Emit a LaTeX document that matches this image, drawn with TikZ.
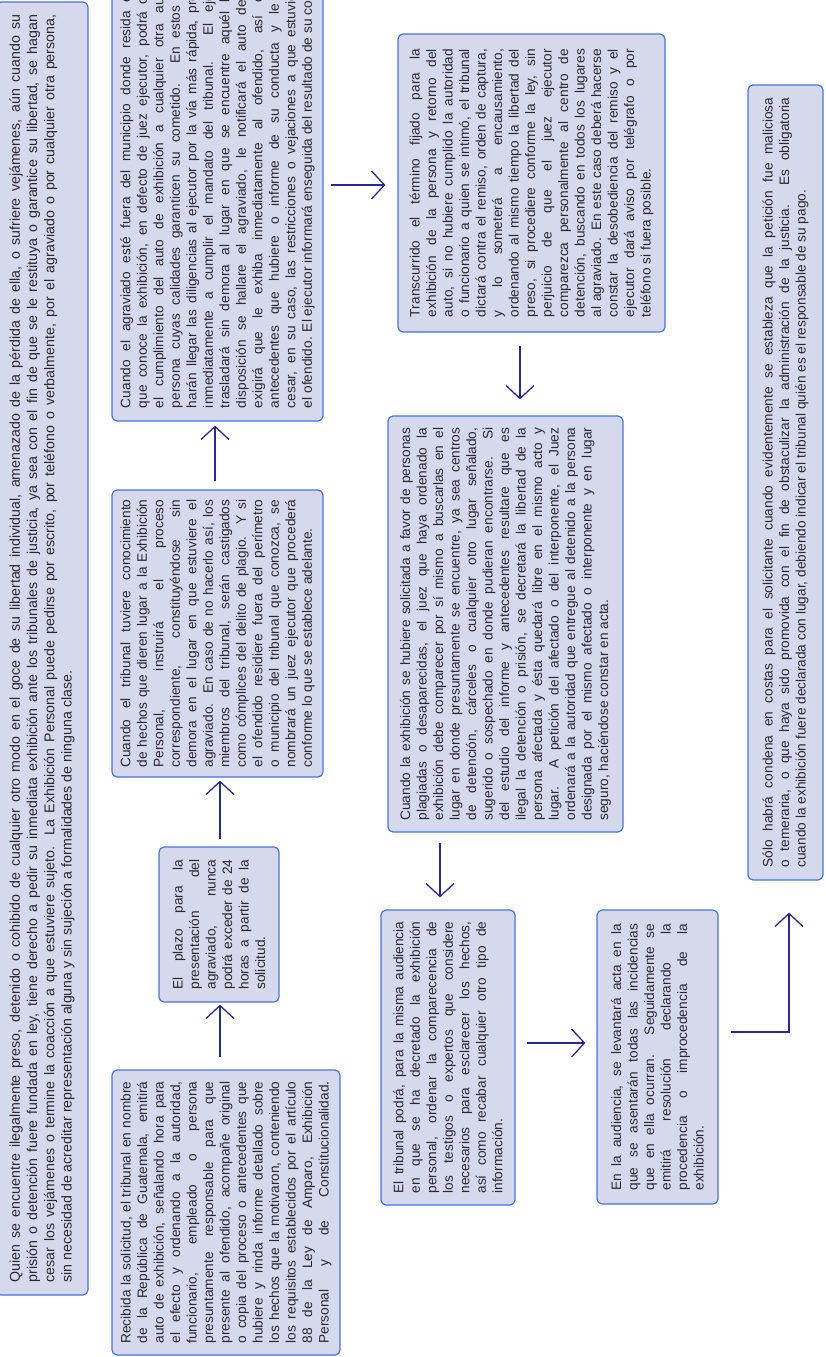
\documentclass[tikz,border=0pt]{standalone}
\usepackage{fontspec}
\setmainfont{Liberation Sans}
\usetikzlibrary{arrows.meta,calc}

\definecolor{boxfill}{RGB}{214,216,236}
\definecolor{boxline}{RGB}{66,116,232}
\definecolor{arrowblue}{RGB}{40,40,150}
\definecolor{textgray}{RGB}{40,40,50}
\hyphenpenalty=10000
\exhyphenpenalty=10000

\begin{document}
\begin{tikzpicture}[x=1pt,y=-1pt,
  paso/.style={draw=boxline,fill=boxfill,line width=1.2pt,rounded corners=5pt,
    rotate=90,text=textgray,inner sep=0pt,
    font=\fontsize{13.7}{16.5}\selectfont},
  flecha/.style={draw=arrowblue,line width=1.3pt,-{Straight Barb[length=13pt,width=28pt]}}]
\useasboundingbox (0,0) rectangle (825,1357);
\clip (0,0) rectangle (825,1357);

\node[paso,minimum width=1293pt,minimum height=92pt,
  font=\fontsize{14.2}{17.3}\selectfont] (quien) at (42,648.5)
  {\parbox{1268pt}{Quien se encuentre ilegalmente preso, detenido o cohibido de cualquier otro modo en el goce de su libertad individual, amenazado de la pérdida de ella, o sufriere vejámenes, aún cuando su\linebreak
  prisión o detención fuere fundada en ley, tiene derecho a pedir su inmediata exhibición ante los tribunales de justicia, ya sea con el fin de que se le restituya o garantice su libertad, se hagan\linebreak
  cesar los vejámenes o termine la coacción a que estuviere sujeto.  La Exhibición Personal puede pedirse por escrito, por teléfono o verbalmente,  por el agraviado o por cualquier otra persona,\linebreak
  sin necesidad de acreditar representación alguna y sin sujeción a formalidades de ninguna clase.}};

\node[paso,minimum width=285pt,minimum height=228pt] (recibida) at (226,1212.5)
  {\parbox{262pt}{\parfillskip=0pt Recibida la solicitud, el tribunal en nombre\linebreak
  de la República de Guatemala, emitirá\linebreak
  auto de exhibición, señalando hora para\linebreak
  el efecto y ordenando a la autoridad,\linebreak
  funcionario, empleado o persona\linebreak
  presuntamente responsable para que\linebreak
  presente al ofendido, acompañe original\linebreak
  o copia del proceso o antecedentes que\linebreak
  hubiere y rinda informe detallado sobre\linebreak
  los hechos que la motivaron, conteniendo\linebreak
  los requisitos establecidos por el artículo\linebreak
  88 de la Ley de Amparo, Exhibición\linebreak
  Personal y de Constitucionalidad.}};

\node[paso,minimum width=155pt,minimum height=120pt] (plazo) at (219,924.5)
  {\parbox{130pt}{El plazo para la\linebreak
  presentación del\linebreak
  agraviado, nunca\linebreak
  podrá exceder de 24\linebreak
  horas a partir de la\linebreak
  solicitud.}};

\node[paso,minimum width=287pt,minimum height=211pt] (tribunal) at (217.5,633.5)
  {\parbox{268pt}{Cuando el tribunal tuviere conocimiento\linebreak
  de hechos que dieren lugar a la Exhibición\linebreak
  Personal, instruirá el proceso\linebreak
  correspondiente, constituyéndose sin\linebreak
  demora en el lugar en que estuviere el\linebreak
  agraviado. En caso de no hacerlo así, los\linebreak
  miembros del tribunal, serán castigados\linebreak
  como cómplices del delito de plagio. Y si\linebreak
  el ofendido residiere fuera del perímetro\linebreak
  o municipio del tribunal que conozca, se\linebreak
  nombrará un juez ejecutor que procederá\linebreak
  conforme lo que se establece adelante.}};

\node[paso,minimum width=496pt,minimum height=211pt] (agraviado) at (217.5,173)
  {\parbox{470pt}{Cuando el agraviado esté fuera del municipio donde resida el tribunal\linebreak
  que conoce la exhibición, en defecto de juez ejecutor, podrá comisionar\linebreak
  el cumplimiento del auto de exhibición a cualquier otra autoridad o\linebreak
  persona cuyas calidades garanticen su cometido. En estos casos se\linebreak
  harán llegar las diligencias al ejecutor por la vía más rápida, procediendo\linebreak
  inmediatamente a cumplir el mandato del tribunal. El ejecutor se\linebreak
  trasladará sin demora al lugar en que se encuentre aquél bajo cuya\linebreak
  disposición se hallare el agraviado, le notificará el auto del tribunal,\linebreak
  exigirá que le exhiba inmediatamente al ofendido, así como los\linebreak
  antecedentes que hubiere o informe de su conducta y le ordenará\linebreak
  cesar, en su caso, las restricciones o vejaciones a que estuviere sujeto\linebreak
  el ofendido. El ejecutor informará enseguida del resultado de su cometido.}};

\node[paso,minimum width=298pt,minimum height=267pt] (transcurrido) at (531.5,183)
  {\parbox{268pt}{Transcurrido el término fijado para la\linebreak
  exhibición de la persona y retorno del\linebreak
  auto, si no hubiere cumplido la autoridad\linebreak
  o funcionario a quien se intimó, el tribunal\linebreak
  dictará contra el remiso, orden de captura,\linebreak
  y lo someterá a encausamiento,\linebreak
  ordenando al mismo tiempo la libertad del\linebreak
  preso, si procediere conforme la ley, sin\linebreak
  perjuicio de que el juez ejecutor\linebreak
  comparezca personalmente al centro de\linebreak
  detención, buscando en todos los lugares\linebreak
  al agraviado. En este caso deberá hacerse\linebreak
  constar la desobediencia del remiso y el\linebreak
  ejecutor dará aviso por telégrafo o por\linebreak
  teléfono si fuera posible.}};

\node[paso,minimum width=416pt,minimum height=235pt] (plagiados) at (505.5,624)
  {\parbox{393pt}{Cuando la exhibición se hubiere solicitada a favor de personas\linebreak
  plagiadas o desaparecidas, el juez que haya ordenado la\linebreak
  exhibición debe comparecer por sí mismo a buscarlas en el\linebreak
  lugar en donde presuntamente se encuentre, ya sea centros\linebreak
  de detención, cárceles o cualquier otro lugar señalado,\linebreak
  sugerido o sospechado en donde pudieran encontrarse. Si\linebreak
  del estudio del informe y antecedentes resultare que es\linebreak
  ilegal la detención o prisión, se decretará la libertad de la\linebreak
  persona afectada y ésta quedará libre en el mismo acto y\linebreak
  lugar. A petición del afectado o del interponente, el Juez\linebreak
  ordenará a la autoridad que entregue al detenido a la persona\linebreak
  designada por el mismo afectado o interponente y en lugar\linebreak
  seguro, haciéndose constar en acta.}};

\node[paso,minimum width=295pt,minimum height=134pt] (audiencia) at (448,1057.5)
  {\parbox{272pt}{El tribunal podrá, para la misma audiencia\linebreak
  en que se ha decretado la exhibición\linebreak
  personal, ordenar la comparecencia de\linebreak
  los testigos o expertos que considere\linebreak
  necesarios para esclarecer los hechos,\linebreak
  así como recabar cualquier otro tipo de\linebreak
  información.}};

\node[paso,minimum width=294pt,minimum height=121pt] (acta) at (657.5,1057)
  {\parbox{267pt}{En la audiencia, se levantará acta en la\linebreak
  que se asentarán todas las incidencias\linebreak
  que en ella ocurran. Seguidamente se\linebreak
  emitirá resolución declarando la\linebreak
  procedencia o improcedencia de la\linebreak
  exhibición.}};

\node[paso,minimum width=795pt,minimum height=75pt] (costas) at (785.5,482.5)
  {\parbox{770pt}{Sólo habrá condena en costas para el solicitante cuando evidentemente se estableza que la petición fue maliciosa\linebreak
  o temeraria, o que haya sido promovida con el fin de obstaculizar la administración de la justicia.  Es obligatoria\linebreak
  cuando la exhibición fuere declarada con lugar, debiendo indicar el tribunal quién es el responsable de su pago.}};

\draw[flecha] ($(recibida.east)+(-6,-12)$) -- ($(plazo.west)+(1,2)$);
\draw[flecha] ($(plazo.east)+(1,-7)$) -- ($(tribunal.west)+(2.5,3)$);
\draw[flecha] ($(tribunal.east)+(-2.5,-8)$) -- ($(agraviado.west)+(-2.5,4)$);
\draw[flecha] ($(agraviado.south)+(7,12)$) -- ($(transcurrido.north)+(-12,2)$);
\draw[flecha] ($(transcurrido.west)+(-11.5,13)$) -- ($(plagiados.east)+(14.5,-16)$);
\draw[flecha] ($(plagiados.west)+(-65.5,10)$) -- ($(audiencia.east)+(-8,-12)$);
\draw[flecha] ($(audiencia.south)+(11,-14.5)$) -- ($(acta.north)+(-11,-14)$);
\draw[flecha] ($(acta.south)+(12,-25)$) -| ($(costas.west)+(3.5,32)$);
\end{tikzpicture}
\end{document}
